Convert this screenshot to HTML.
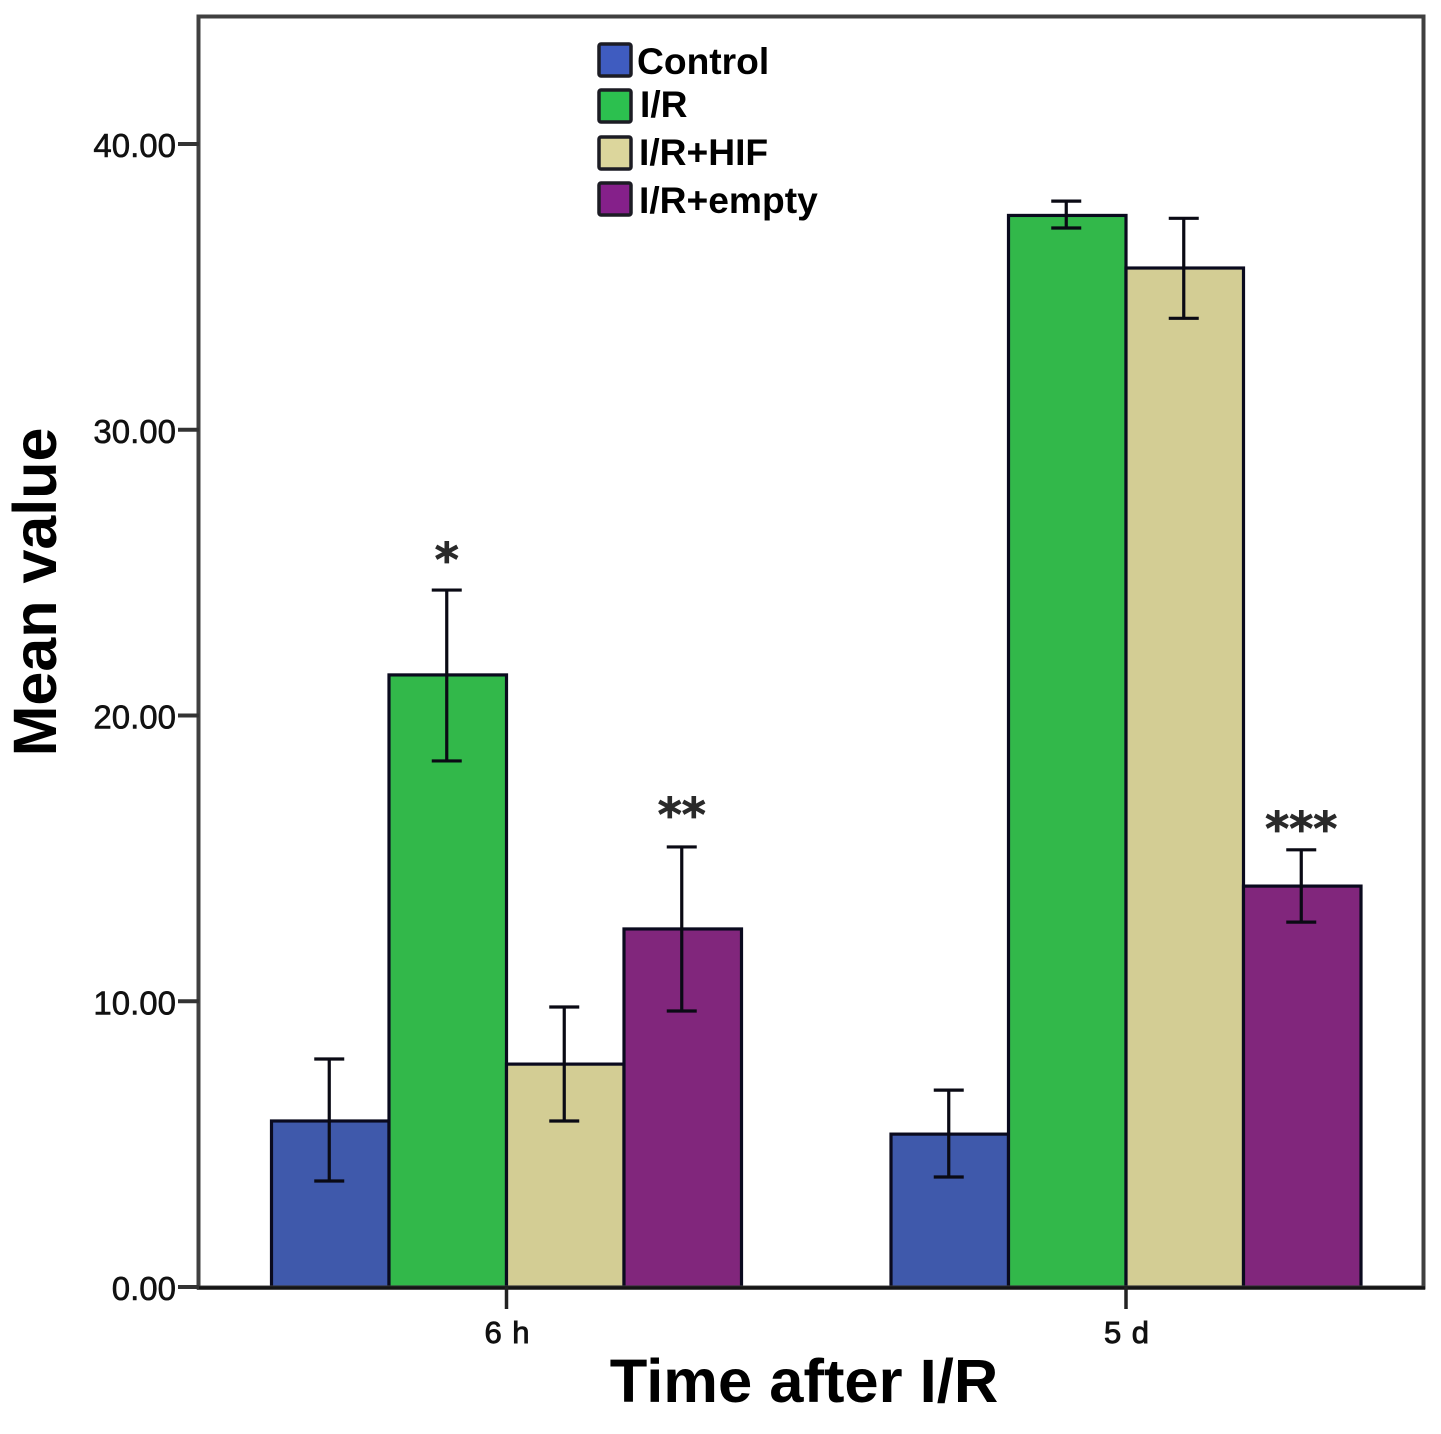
<!DOCTYPE html>
<html lang="en">
<head>
<meta charset="utf-8">
<title>Mean value by time after I/R</title>
<style>
html,body{margin:0;padding:0;background:#fff;width:1441px;height:1434px;overflow:hidden}
svg{display:block;font-family:"Liberation Sans",Arial,sans-serif}
</style>
</head>
<body>
<svg id="chart" xmlns="http://www.w3.org/2000/svg" width="1441" height="1434" viewBox="0 0 1441 1434">
  <rect x="0" y="0" width="1441" height="1434" fill="#ffffff"/>
  <g id="bars"></g>
  <g id="errors"></g>
  <rect x="198.5" y="16.5" width="1225" height="1271" fill="none" stroke="#404040" stroke-width="4"/>
  <line x1="197" x2="1425" y1="1288" y2="1288" stroke="#151515" stroke-width="3.5"/>
  <g id="axes"></g>
  <text transform="translate(56,592) rotate(-90)" text-anchor="middle" font-size="61" font-weight="700" fill="#000">Mean value</text>
  <text x="804" y="1402" text-anchor="middle" font-size="61.5" font-weight="700" fill="#000">Time after I/R</text>
  <g id="legend"></g>
  <g id="marks"></g>
</svg>
<script>
const categories = ['6 h', '5 d'];
const seriesNames = ['Control', 'I/R', 'I/R+HIF', 'I/R+empty'];
const controlValues = [5.81, 5.35];
const irValues = [21.42, 37.5];
const hifValues = [7.8, 35.66];
const emptyValues = [12.53, 14.03];
const controlUpper = [7.98, 6.89];
const controlLower = [3.71, 3.85];
const irUpper = [24.39, 38.0];
const irLower = [18.41, 37.06];
const hifUpper = [9.8, 37.4];
const hifLower = [5.81, 33.9];
const emptyUpper = [15.4, 15.3];
const emptyLower = [9.66, 12.77];
const yTicks = [0, 10, 20, 30, 40];
const significance = [
  {category: 0, series: 1, label: '*', value: 25.72},
  {category: 0, series: 3, label: '**', value: 16.8},
  {category: 1, series: 3, label: '***', value: 16.31}
];

const seriesValues = [controlValues, irValues, hifValues, emptyValues];
const seriesUpper = [controlUpper, irUpper, hifUpper, emptyUpper];
const seriesLower = [controlLower, irLower, hifLower, emptyLower];
const seriesColors = ['#3f59ab', '#32b84a', '#d3cd94', '#81267c'];
const legendInner = ['#3f5cc0', '#2cc04f', '#dcd69c', '#85208a'];

const NS = 'http://www.w3.org/2000/svg';
const y0 = 1287, yPerUnit = 28.575;
const groupStart = 506.5, groupStep = 619.5, barWidth = 117.5;
function yScale(v) { return y0 - v * yPerUnit; }
function xCenter(c) { return groupStart + c * groupStep; }
function xBar(c, s) { return xCenter(c) + (s - seriesNames.length / 2) * barWidth; }
function make(parent, tag, attrs, text) {
  const el = document.createElementNS(NS, tag);
  for (const k in attrs) el.setAttribute(k, attrs[k]);
  if (text !== undefined) el.textContent = text;
  parent.appendChild(el);
  return el;
}

const barsG = document.getElementById('bars');
const errG = document.getElementById('errors');
seriesNames.forEach(function (name, s) {
  categories.forEach(function (cat, c) {
    const top = yScale(seriesValues[s][c]);
    const rect = make(barsG, 'rect', {x: xBar(c, s), y: top, width: barWidth, height: y0 - top, fill: seriesColors[s], stroke: '#0a0a1e', 'stroke-width': 3.2});
    
    
    const cx = xBar(c, s) + barWidth / 2 - 1;
    const up = yScale(seriesUpper[s][c]);
    const lo = yScale(seriesLower[s][c]);
    const g = make(errG, 'g', {stroke: '#0a0a14', 'stroke-width': 3.2, fill: 'none'});
    
    
    make(g, 'line', {x1: cx, x2: cx, y1: up, y2: lo});
    make(g, 'line', {x1: cx - 15, x2: cx + 15, y1: up, y2: up});
    make(g, 'line', {x1: cx - 15, x2: cx + 15, y1: lo, y2: lo});
  });
});

const axesG = document.getElementById('axes');
yTicks.forEach(function (t) {
  const y = yScale(t);
  const tick = make(axesG, 'line', {x1: 178, x2: 199, y1: y, y2: y, stroke: '#333', 'stroke-width': 4});
  
  
  const label = make(axesG, 'text', {x: 176, y: y + 13, 'text-anchor': 'end', 'font-size': 33, fill: '#111', stroke: '#111', 'stroke-width': 0.6}, t.toFixed(2));
  
  
});
categories.forEach(function (cat, c) {
  const x = xCenter(c);
  const tick = make(axesG, 'line', {x1: x, x2: x, y1: 1287, y2: 1309, stroke: '#222', 'stroke-width': 3.5});
  
  
  const label = make(axesG, 'text', {x: x + 1, y: 1343, 'text-anchor': 'middle', 'font-size': 31, 'letter-spacing': 1, fill: '#111', stroke: '#111', 'stroke-width': 0.9}, cat);
  
  
});

const legendG = document.getElementById('legend');
const swatchCenterY = [60, 106, 153, 199];
const legendBaseY = [74, 117, 165, 213];
const legendTextX = [637, 640, 639, 639];
seriesNames.forEach(function (name, s) {
  const swatch = make(legendG, 'rect', {x: 599, y: swatchCenterY[s] - 16, width: 32, height: 32, rx: 2, fill: legendInner[s], stroke: '#1c1c24', 'stroke-width': 3.5});
  
  
  const label = make(legendG, 'text', {x: legendTextX[s], y: legendBaseY[s], 'font-size': 37.2, 'font-weight': 700, fill: '#000'}, name);
  
  
});

const marksG = document.getElementById('marks');
significance.forEach(function (m) {
  const mark = make(marksG, 'text', {x: xBar(m.category, m.series) + barWidth / 2 - 1, y: yScale(m.value) + 24, 'text-anchor': 'middle', 'font-size': 46, 'font-weight': 700, 'font-family': '"DejaVu Sans", sans-serif', fill: '#2a2a2a', stroke: '#2a2a2a', 'stroke-width': 0.8}, m.label);
  
  
});
</script>
</body>
</html>
